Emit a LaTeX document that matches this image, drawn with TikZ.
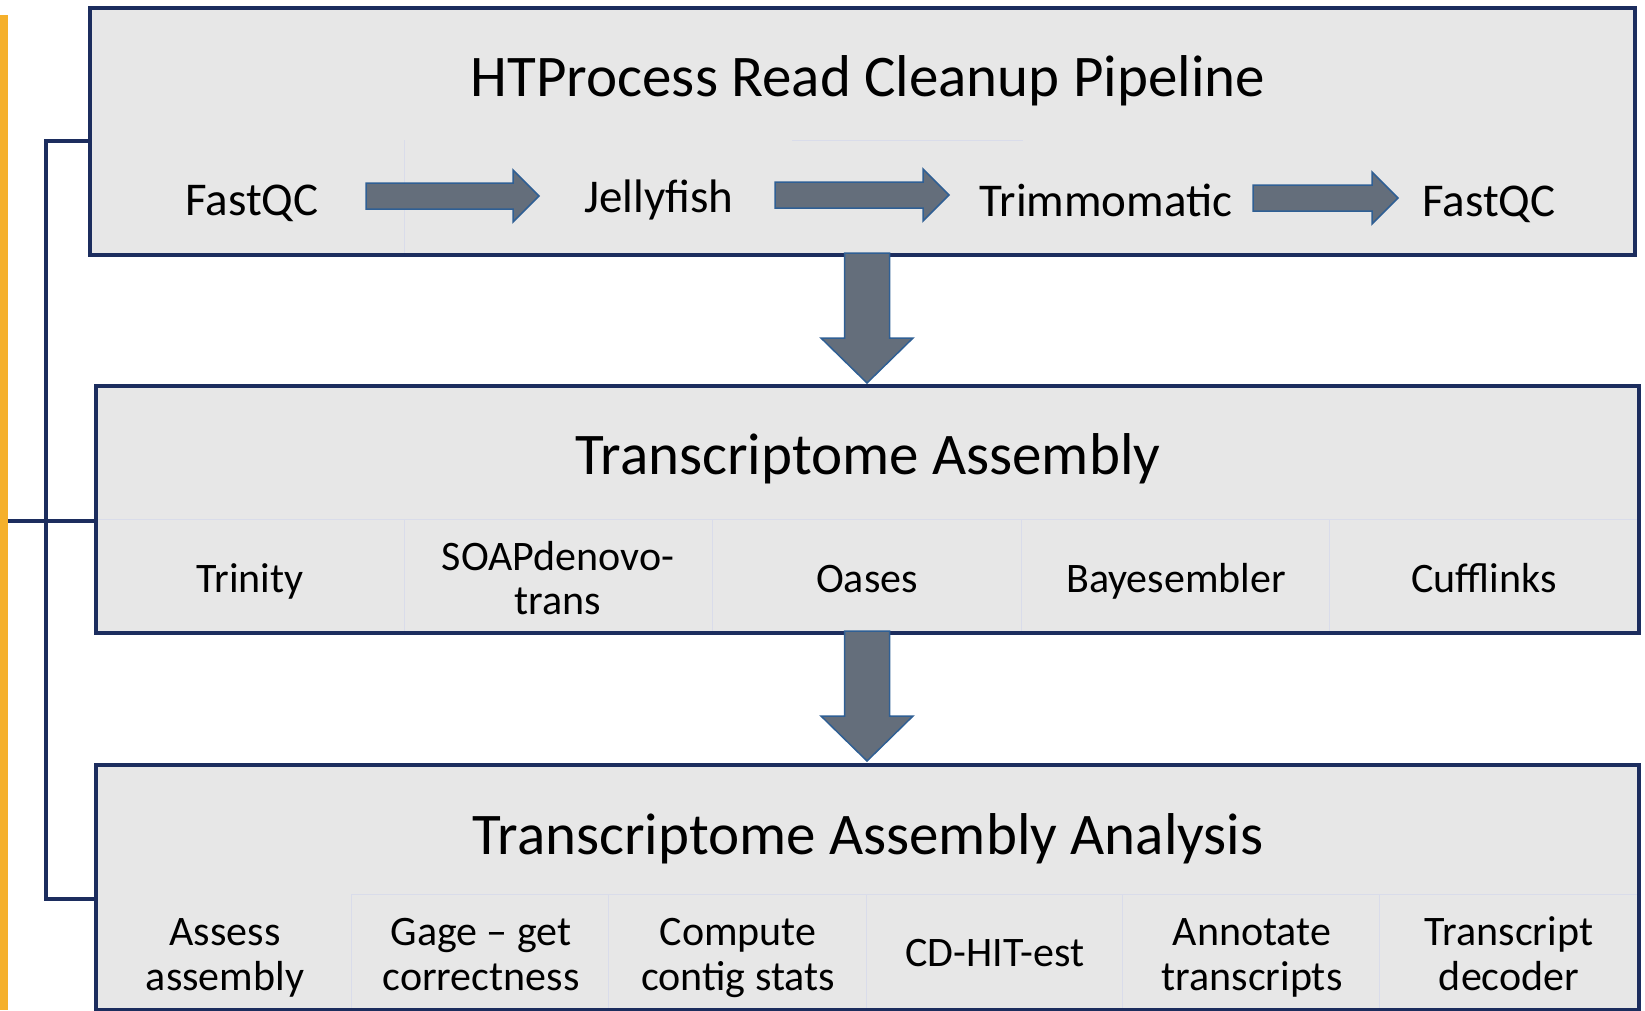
\documentclass[tikz,border=0pt]{standalone}
\usepackage{fontspec}
\setmainfont{Carlito}
\definecolor{navy}{HTML}{1C2D5E}
\definecolor{boxgray}{HTML}{E7E7E7}
\definecolor{arrowgray}{HTML}{646E7B}
\definecolor{arrowblue}{HTML}{2F5F94}
\definecolor{barorange}{HTML}{F5B02B}
\definecolor{faintline}{HTML}{D9DCEA}
\newcommand{\myRarrow}[3]{% x0, xtip, yc
  \draw[blockarrow] (#1,#3-13) -- (#2-26,#3-13) -- (#2-26,#3-26) -- (#2,#3)
    -- (#2-26,#3+26) -- (#2-26,#3+13) -- (#1,#3+13) -- cycle;}
\newcommand{\myDarrow}[3]{% xc, ytop, ytip
  \draw[blockarrow] (#1-22.5,#2) -- (#1+22.5,#2) -- (#1+22.5,#3-45) -- (#1+46,#3-45)
    -- (#1,#3) -- (#1-46,#3-45) -- (#1-22.5,#3-45) -- cycle;}
\begin{document}
\begin{tikzpicture}[x=1pt,y=-1pt,
  boxframe/.style={draw=navy, line width=4pt, fill=boxgray, inner sep=0pt, outer sep=0pt},
  faint/.style={draw=faintline, line width=1pt},
  bracket/.style={draw=navy, line width=4pt},
  blockarrow/.style={fill=arrowgray, draw=arrowblue, line width=1.5pt, line join=miter},
  title/.style={font=\fontsize{59}{70}\selectfont, text=black, anchor=base, inner sep=0pt},
  lbltop/.style={font=\fontsize{47}{50}\selectfont, text=black, anchor=base, inner sep=0pt},
  lbl/.style={font=\fontsize{42}{45}\selectfont, text=black, anchor=base, inner sep=0pt}]
\useasboundingbox (0,0) rectangle (1645,1010);

% orange bar
\fill[barorange] (0,15) rectangle (8,1010);

% boxes
\node[boxframe, minimum width=1545pt, minimum height=247pt] (b1) at (862.5,131.5) {};
\node[boxframe, minimum width=1543pt, minimum height=247pt] (b2) at (867.5,509.5) {};
\node[boxframe, minimum width=1543pt, minimum height=245pt] (b3) at (867.5,887.5) {};

% faint cell lines
\draw[faint] (404,140) -- (404,253);
\draw[faint] (792,140) -- (1023,140);
\draw[faint] (98,519) -- (1637,519);
\foreach \x in {404,712,1021,1329} \draw[faint] (\x,519) -- (\x,631);
\draw[faint] (351,894) -- (1637,894);
\foreach \x in {351,608,866,1122,1379} \draw[faint] (\x,894) -- (\x,1008);

% bracket
\coordinate (sptop) at (46,141);
\coordinate (spbot) at (46,899);
\coordinate (barmid) at (8,521);
\draw[bracket, line join=miter] (b1.west |- sptop) -- (sptop) -- (spbot) -- (b3.west |- spbot);
\draw[bracket] (barmid) -- (b2.west |- barmid);

% titles
\node[title] (t1) at (868,96.5) {HTProcess Read Cleanup Pipeline};
\node[title] (t2) at (868,474) {Transcriptome Assembly};
\node[title] (t3) at (868,854) {Transcriptome Assembly Analysis};

% box 1 labels
\node[lbltop] (p1) at (252,215) {FastQC};
\node[lbltop] (p2) at (659,212) {Jellyfish};
\node[lbltop] (p3) at (1106,216) {Trimmomatic};
\node[lbltop] (p4) at (1489,216) {FastQC};

% box 2 labels
\node[lbl] (a1) at (250,592) {Trinity};
\node[lbl] (a2) at (558,570) {SOAPdenovo-};
\node[lbl] (a2b) at (558,614) {trans};
\node[lbl] (a3) at (867,592) {Oases};
\node[lbl] (a4) at (1176,592) {Bayesembler};
\node[lbl] (a5) at (1484,592) {Cufflinks};

% box 3 labels
\node[lbl] (c1) at (225,945) {Assess};
\node[lbl] (c1b) at (225,990) {assembly};
\node[lbl] (c2) at (481,945) {Gage – get};
\node[lbl] (c2b) at (481,990) {correctness};
\node[lbl] (c3) at (738,945) {Compute};
\node[lbl] (c3b) at (738,990) {contig stats};
\node[lbl] (c4) at (995,966) {CD-HIT-est};
\node[lbl] (c5) at (1252,945) {Annotate};
\node[lbl] (c5b) at (1252,990) {transcripts};
\node[lbl] (c6) at (1509,945) {Transcript};
\node[lbl] (c6b) at (1509,990) {decoder};

% block arrows
\myRarrow{366}{539}{196}
\myRarrow{775}{949}{195}
\myRarrow{1253}{1398}{198}
\myDarrow{867}{253}{383}
\myDarrow{867}{631}{761}
\end{tikzpicture}
\end{document}
